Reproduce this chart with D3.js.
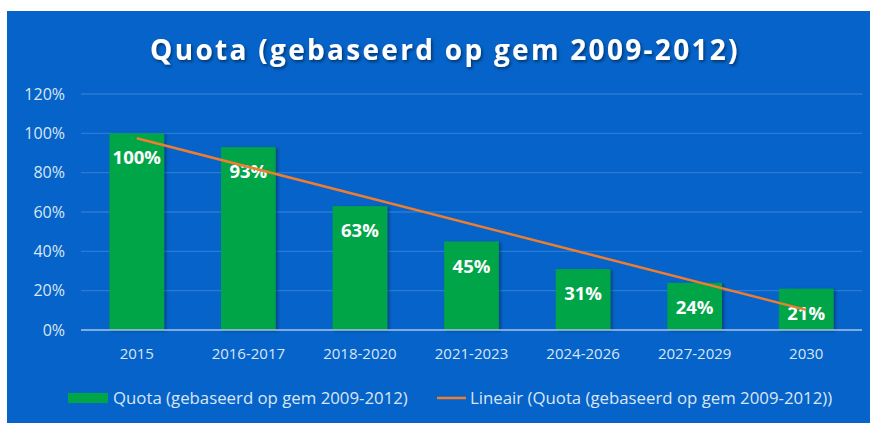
<!DOCTYPE html>
<html>
<head>
<meta charset="utf-8">
<script src="https://cdn.jsdelivr.net/npm/d3@7"></script>
<style>
  body { margin: 0; background: #fff; }
  svg { display: block; }
  text { font-family: "Open Sans", sans-serif; }
</style>
</head>
<body>
<script>
const categories = ["2015", "2016-2017", "2018-2020", "2021-2023", "2024-2026", "2027-2029", "2030"];
const quota = [100, 93, 63, 45, 31, 24, 21];
const yTicks = [0, 20, 40, 60, 80, 100, 120];
const title = "Quota (gebaseerd op gem 2009-2012)";
const seriesName = "Quota (gebaseerd op gem 2009-2012)";
const trendName = "Lineair (Quota (gebaseerd op gem 2009-2012))";

const w = 870, h = 423;
const margin = { left: 81, right: 8, top: 94, bottom: 93 };
const font = "'Open Sans', sans-serif";
const labelColor = "#dbe6f4";

const svg = d3.select("body").append("svg")
    .attr("width", w)
    .attr("height", h);

const defs = svg.append("defs");
const shadow = defs.append("filter").attr("id", "shadow")
    .attr("x", "-20%").attr("y", "-20%").attr("width", "150%").attr("height", "150%");
shadow.append("feDropShadow")
    .attr("dx", 2).attr("dy", 1).attr("stdDeviation", 1.5)
    .attr("flood-color", "#000").attr("flood-opacity", 0.35);

const tshadow = defs.append("filter").attr("id", "tshadow")
    .attr("x", "-10%").attr("y", "-30%").attr("width", "120%").attr("height", "160%");
tshadow.append("feDropShadow")
    .attr("dx", 1.5).attr("dy", 2).attr("stdDeviation", 1.5)
    .attr("flood-color", "#000").attr("flood-opacity", 0.45);

// blue panel
svg.append("rect")
    .attr("x", 7).attr("y", 11)
    .attr("width", w - 7).attr("height", h - 11)
    .attr("fill", "#0563c9");

const x = d3.scaleBand()
    .domain(categories)
    .range([margin.left, w - margin.right])
    .paddingInner(0.51)
    .paddingOuter(0.255);

const y = d3.scaleLinear()
    .domain([0, 120])
    .range([h - margin.bottom, margin.top]);

// gridlines
svg.append("g").selectAll("line")
    .data(yTicks.filter(d => d > 0))
    .enter().append("line")
    .attr("x1", margin.left).attr("x2", w - margin.right)
    .attr("y1", d => y(d)).attr("y2", d => y(d))
    .attr("stroke", "#2a7bd6").attr("stroke-width", 1.3);

// y axis labels
const yAxis = svg.append("g")
    .attr("transform", `translate(${margin.left - 16},0)`)
    .call(d3.axisLeft(y).tickValues(yTicks).tickFormat(d => d + "%").tickSize(0).tickPadding(0));
yAxis.select(".domain").remove();
yAxis.selectAll("text")
    .attr("fill", labelColor)
    .style("font-size", "16px")
    .style("font-family", font);

// bars
svg.append("g").selectAll("rect")
    .data(quota)
    .enter().append("rect")
    .attr("x", (d, i) => x(categories[i]))
    .attr("y", d => y(d))
    .attr("width", x.bandwidth())
    .attr("height", d => y(0) - y(d))
    .attr("fill", "#00a546")
    .attr("filter", "url(#shadow)");

// baseline
svg.append("line")
    .attr("x1", margin.left).attr("x2", w - margin.right)
    .attr("y1", y(0)).attr("y2", y(0))
    .attr("stroke", "#a9c3e6").attr("stroke-width", 1.5);

// x axis labels
const xAxis = svg.append("g")
    .attr("transform", `translate(0,${y(0)})`)
    .call(d3.axisBottom(x).tickSize(0).tickPadding(18));
xAxis.select(".domain").remove();
xAxis.selectAll("text")
    .attr("fill", labelColor)
    .style("font-size", "15px")
    .style("font-family", font);

// linear trendline (least squares)
const xs = quota.map((d, i) => i + 1);
const mx = d3.mean(xs), my = d3.mean(quota);
const slope = d3.sum(xs, (xi, i) => (xi - mx) * (quota[i] - my)) / d3.sum(xs, xi => (xi - mx) ** 2);
const icpt = my - slope * mx;
const trend = [xs[0], xs[xs.length - 1]].map(xi => ({ cat: categories[xi - 1], v: icpt + slope * xi }));

// data labels
svg.append("g").selectAll("text")
    .data(quota)
    .enter().append("text")
    .attr("x", (d, i) => x(categories[i]) + x.bandwidth() / 2)
    .attr("y", d => y(d) + 31)
    .attr("text-anchor", "middle")
    .attr("fill", "#fff")
    .style("font-size", "18.5px")
    .style("font-weight", "bold")
    .text(d => d + "%");

svg.append("path")
    .datum(trend)
    .attr("d", d3.line()
        .x(d => x(d.cat) + x.bandwidth() / 2)
        .y(d => y(d.v)))
    .attr("fill", "none")
    .attr("stroke", "#ed7d31")
    .attr("stroke-width", 2.5);

// title
svg.append("text")
    .attr("x", 445).attr("y", 60)
    .attr("text-anchor", "middle")
    .attr("fill", "#fff")
    .attr("filter", "url(#tshadow)")
    .style("font-size", "28px")
    .style("font-weight", "bold")
    .style("letter-spacing", "2.3px")
    .text(title);

// legend
const lg = svg.append("g").attr("transform", "translate(0,398)");
lg.append("rect")
    .attr("x", 68).attr("y", -5).attr("width", 40).attr("height", 10)
    .attr("fill", "#00a546");
lg.append("text")
    .attr("x", 113).attr("y", 5.5)
    .attr("fill", labelColor)
    .style("font-size", "16.8px")
    .text(seriesName);
lg.append("line")
    .attr("x1", 437).attr("x2", 466).attr("y1", 0).attr("y2", 0)
    .attr("stroke", "#ed7d31").attr("stroke-width", 2.5);
lg.append("text")
    .attr("x", 470).attr("y", 5.5)
    .attr("fill", labelColor)
    .style("font-size", "16.8px")
    .text(trendName);
</script>
</body>
</html>
